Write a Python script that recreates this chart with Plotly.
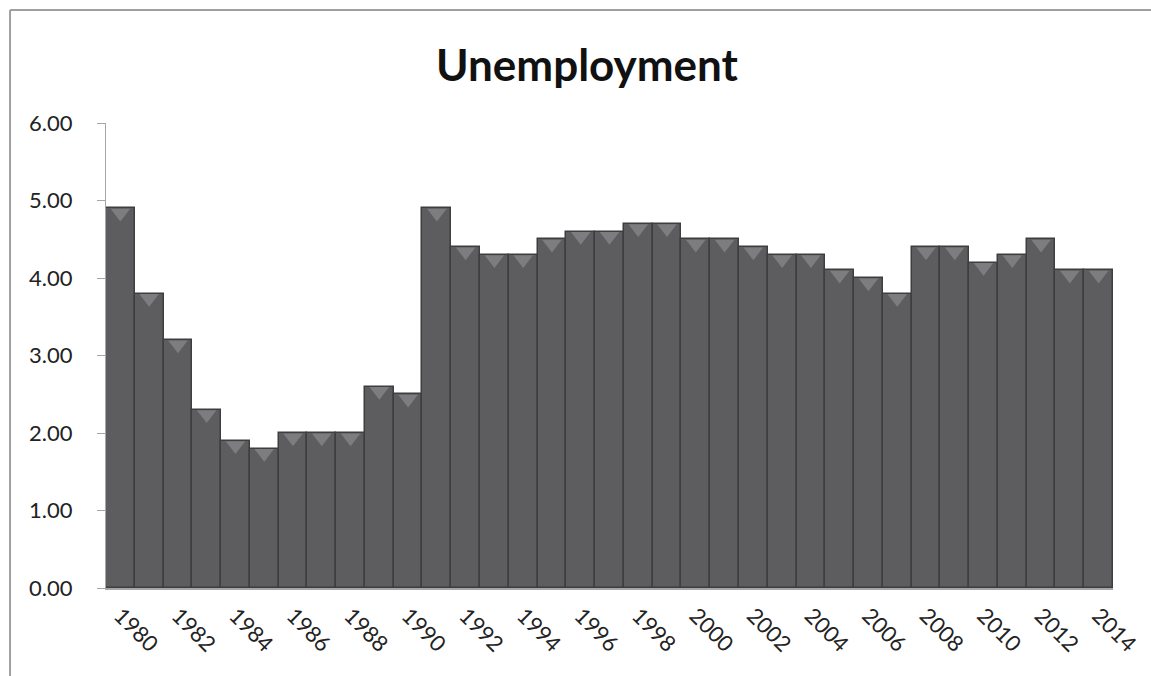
import plotly.graph_objects as go

years = list(range(1980, 2015))
values = [4.9, 3.8, 3.2, 2.3, 1.9, 1.8, 2.0, 2.0, 2.0, 2.6, 2.5,
          4.9, 4.4, 4.3, 4.3, 4.5, 4.6, 4.6, 4.7, 4.7, 4.5,
          4.5, 4.4, 4.3, 4.3, 4.1, 4.0, 3.8, 4.4, 4.4, 4.2,
          4.3, 4.5, 4.1, 4.1]
tick_years = [str(y) for y in range(1980, 2015, 2)]
y_ticks = [0, 1, 2, 3, 4, 5, 6]

FONT = "Lato"

fig = go.Figure()
fig.add_trace(go.Bar(
    x=[str(y) for y in years], y=values,
    marker=dict(color="#5d5d60", line=dict(color="#3e3e40", width=1.5)),
    hoverinfo="x+y", showlegend=False,
))
# bevel highlight at the top of each bar
fig.add_trace(go.Scatter(
    x=[str(y) for y in years], y=[v - 0.06 for v in values],
    mode="markers",
    marker=dict(symbol="triangle-down", size=17, color="#7d7d80",
                line=dict(width=0)),
    hoverinfo="skip", showlegend=False,
))

fig.update_layout(
    width=1151, height=676,
    margin=dict(l=106, r=38, t=123, b=88, autoexpand=False),
    paper_bgcolor="white", plot_bgcolor="white",
    bargap=0,
    title=dict(text="<b>Unemployment</b>", x=0.51, xanchor="center",
               y=0.903, yanchor="middle",
               font=dict(family=FONT, size=44, color="#111111")),
    xaxis=dict(
        type="category",
        tickmode="array", tickvals=tick_years, ticktext=tick_years,
        tickangle=45, showline=True, linecolor="#a6a6a6", linewidth=2,
        ticks="", showgrid=False, zeroline=False, automargin=False,
        tickfont=dict(family=FONT, size=22, color="#222222"),
        range=[-0.5, len(years) - 0.5],
        ticklabelstandoff=4,
    ),
    yaxis=dict(
        range=[0, 6], tickvals=y_ticks, tickformat=".2f",
        showline=True, linecolor="#a6a6a6", linewidth=1,
        ticks="outside", ticklen=8, tickcolor="#a6a6a6",
        showgrid=False, zeroline=False, automargin=False,
        tickfont=dict(family=FONT, size=22, color="#222222"),
        ticklabelstandoff=20,
    ),
    shapes=[
        dict(type="line", xref="paper", yref="paper",
             x0=-0.0953, x1=1.05, y0=1.2428, y1=1.2428,
             line=dict(color="#a0a0a0", width=2)),
        dict(type="line", xref="paper", yref="paper",
             x0=-0.0953, x1=-0.0953, y0=-0.2, y1=1.2428,
             line=dict(color="#a0a0a0", width=2)),
    ],
)

fig.write_html("out.html")
